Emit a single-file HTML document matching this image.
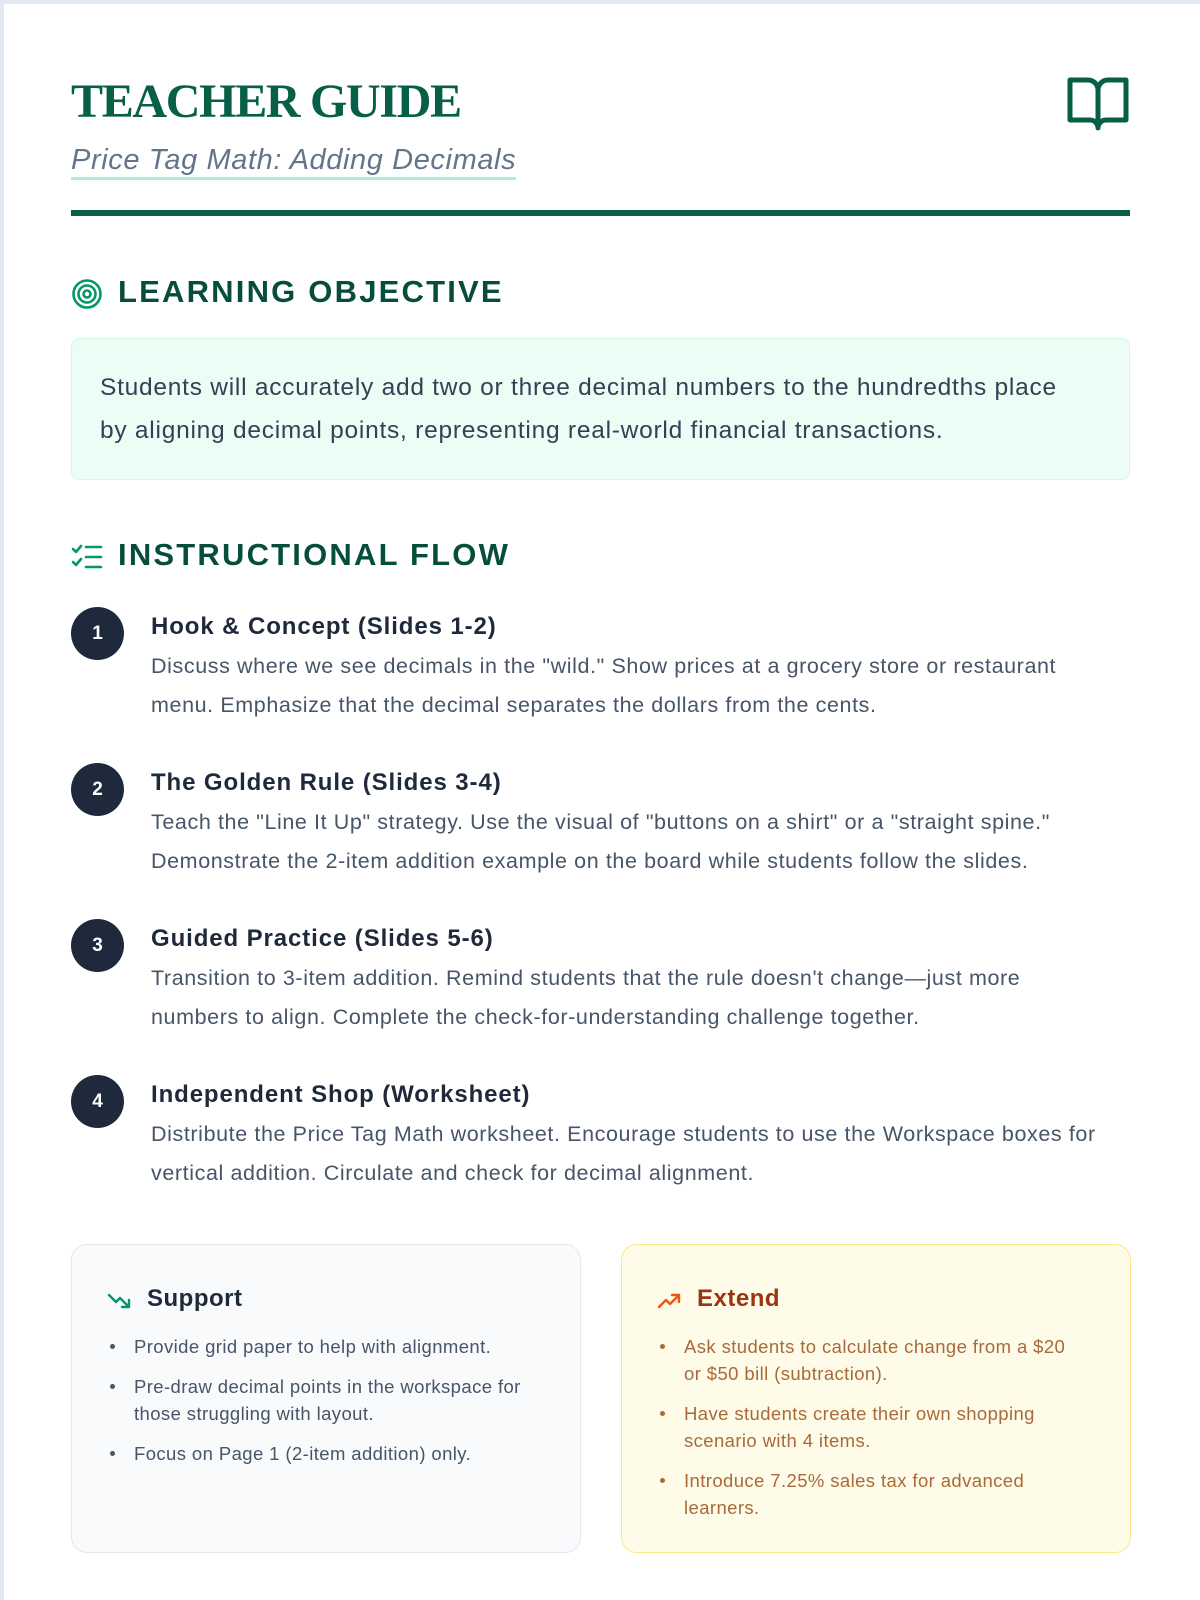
<!DOCTYPE html>
<html><head><meta charset="utf-8"><style>
*{margin:0;padding:0;box-sizing:border-box}
body{width:1200px;height:1600px;background:#e2e8f0;font-family:"Liberation Sans",sans-serif;position:relative;overflow:hidden}
.page{position:absolute;left:4px;top:4px;width:1196px;height:1596px;background:#fff}
.a{position:absolute;white-space:nowrap}
h1{position:absolute;left:71px;top:74px;font-family:"Liberation Serif",serif;font-weight:bold;font-size:48px;color:#065f46;letter-spacing:-1.3px}
.sub{left:71px;top:143px;font-style:italic;font-size:29px;letter-spacing:0.6px;color:#64748b;border-bottom:3px solid #a7f3d0;line-height:34px}
.rule{position:absolute;left:71px;top:210px;width:1059px;height:6px;background:#065f46}
.sec{font-size:31px;font-weight:bold;color:#064e3b;letter-spacing:2.2px;left:118px}
.obj{position:absolute;left:71px;top:338px;width:1059px;height:142px;background:#ecfdf5;border:1px solid #d1fae5;border-radius:8px;padding:27px 28px;font-size:24.5px;letter-spacing:0.75px;line-height:43px;color:#334155;white-space:nowrap}
.num{position:absolute;left:71px;width:53px;height:53px;border-radius:50%;background:#1e293b;color:#fff;font-weight:bold;font-size:19px;text-align:center;line-height:53px}
.st{left:151px;font-size:24px;font-weight:bold;color:#1e293b;letter-spacing:0.9px}
.sd{left:151px;font-size:21.5px;letter-spacing:0.6px;line-height:38.5px;color:#475569}
.card{position:absolute;top:1244px;width:510px;height:309px;border-radius:16px}
.card h3{position:absolute;left:75px;top:40px;font-size:24px;letter-spacing:0.5px}
.card ul{position:absolute;left:38px;top:88px;list-style:none;width:460px}
.card li{position:relative;padding-left:24px;font-size:18.5px;letter-spacing:0.4px;line-height:27px;margin-bottom:13px;white-space:nowrap}
.card li:before{content:"";position:absolute;left:0;top:11px;width:5px;height:5px;border-radius:50%;background:currentColor}
</style></head><body><div class="page"></div>
<h1>TEACHER GUIDE</h1>
<div class="a sub">Price Tag Math: Adding Decimals</div>
<svg class="a" style="left:1066px;top:76px" width="64" height="56" viewBox="0 0 64 56"><path d="M4 4h18a10 10 0 0 1 10 10v38a8 8 0 0 0-8-8H4z M60 4H42a10 10 0 0 0-10 10v38a8 8 0 0 1 8-8h20z" fill="none" stroke="#065f46" stroke-width="5" stroke-linejoin="round"/></svg>
<div class="rule"></div>
<svg class="a" style="left:71px;top:278px" width="32" height="32" viewBox="0 0 32 32"><g fill="none" stroke="#059669" stroke-width="2.6"><circle cx="16" cy="16" r="13.5"/><circle cx="16" cy="16" r="8.5"/><circle cx="16" cy="16" r="3.5"/></g></svg>
<div class="a sec" style="top:274px">LEARNING OBJECTIVE</div>
<div class="obj">Students will accurately add two or three decimal numbers to the hundredths place<br>by aligning decimal points, representing real-world financial transactions.</div>
<svg class="a" style="left:71px;top:543px" width="32" height="28" viewBox="0 0 32 28"><g fill="none" stroke="#059669" stroke-width="2.6" stroke-linecap="round" stroke-linejoin="round"><path d="M2 6l3 3 5-6M2 19l3 3 5-6M15 4h15M15 14h15M15 24h15"/></g></svg>
<div class="a sec" style="top:537px">INSTRUCTIONAL FLOW</div>

<div class="num" style="top:607px">1</div>
<div class="a st" style="top:613px">Hook &amp; Concept (Slides 1-2)</div>
<div class="a sd" style="top:647px">Discuss where we see decimals in the "wild." Show prices at a grocery store or restaurant<br>menu. Emphasize that the decimal separates the dollars from the cents.</div>
<div class="num" style="top:763px">2</div>
<div class="a st" style="top:769px">The Golden Rule (Slides 3-4)</div>
<div class="a sd" style="top:803px">Teach the "Line It Up" strategy. Use the visual of "buttons on a shirt" or a "straight spine."<br>Demonstrate the 2-item addition example on the board while students follow the slides.</div>
<div class="num" style="top:919px">3</div>
<div class="a st" style="top:925px">Guided Practice (Slides 5-6)</div>
<div class="a sd" style="top:959px">Transition to 3-item addition. Remind students that the rule doesn't change—just more<br>numbers to align. Complete the check-for-understanding challenge together.</div>
<div class="num" style="top:1075px">4</div>
<div class="a st" style="top:1081px">Independent Shop (Worksheet)</div>
<div class="a sd" style="top:1115px">Distribute the Price Tag Math worksheet. Encourage students to use the Workspace boxes for<br>vertical addition. Circulate and check for decimal alignment.</div>

<div class="card" style="left:71px;background:#f8fafc;border:1.5px solid #e2e8f0;color:#475569">
<svg class="a" style="left:35px;top:47px" width="26" height="18" viewBox="0 0 26 18"><path d="M2 3l7 7 4-4 9 9M15 15h7v-7" fill="none" stroke="#059669" stroke-width="2.4" stroke-linecap="round" stroke-linejoin="round"/></svg>
<h3 style="color:#1e293b">Support</h3>
<ul><li>Provide grid paper to help with alignment.</li><li>Pre-draw decimal points in the workspace for<br>those struggling with layout.</li><li>Focus on Page 1 (2-item addition) only.</li></ul></div>
<div class="card" style="left:621px;background:#fefce8;border:1.5px solid #fde68a;color:#a16207">
<svg class="a" style="left:35px;top:47px" width="26" height="18" viewBox="0 0 26 18"><path d="M2 15l7-7 4 4 9-9M15 3h7v7" fill="none" stroke="#ea580c" stroke-width="2.4" stroke-linecap="round" stroke-linejoin="round"/></svg>
<h3 style="color:#9a3412">Extend</h3>
<ul style="color:#a86a3a"><li>Ask students to calculate change from a $20<br>or $50 bill (subtraction).</li><li>Have students create their own shopping<br>scenario with 4 items.</li><li>Introduce 7.25% sales tax for advanced<br>learners.</li></ul></div>
</body></html>
